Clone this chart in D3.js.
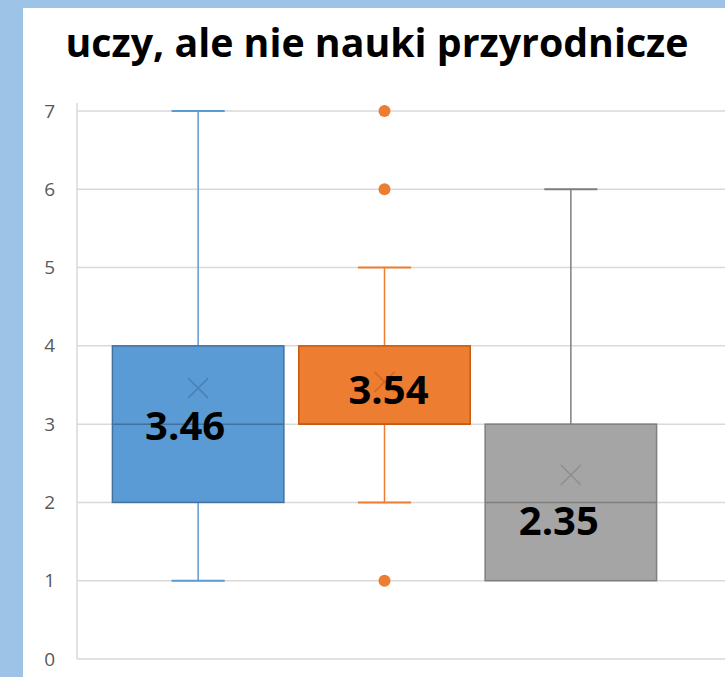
<!DOCTYPE html>
<html>
<head>
<meta charset="utf-8">
<script src="https://cdn.jsdelivr.net/npm/d3@7"></script>
<style>
  html, body { margin: 0; padding: 0; background: #9dc3e6; }
  svg { display: block; }
</style>
</head>
<body>
<svg id="chart" width="725" height="677"></svg>
<script>
// chart data
var title = 'uczy, ale nie nauki przyrodnicze';
var groups = ['A', 'B', 'C'];
var mins = [1, 2, 1];
var q1s = [2, 3, 1];
var medians = [3, 3, 2];
var q3s = [4, 4, 3];
var maxs = [7, 5, 6];
var means = [3.46, 3.54, 2.35];
var outliers = [[], [1, 6, 7], []];
var yTicks = [0, 1, 2, 3, 4, 5, 6, 7];

// styles
var fills = ['#5b9bd5', '#ed7d31', '#a5a5a5'];
var strokes = ['#41719c', '#c55a11', '#7f7f7f'];
var whiskerColors = ['#5b9bd5', '#ed7d31', '#7f7f7f'];
// where the mean labels sit, relative to the box centre / mean point
var labelOffsets = [[-13, 52], [4, 22], [-12, 60]];

var W = 725, H = 677;
var svg = d3.select('#chart');

//white panel, blue frame on the left and top
svg.append('rect')
  .attr('x', 23).attr('y', 8)
  .attr('width', W - 23).attr('height', H - 8)
  .attr('fill', '#ffffff');

var y = d3.scaleLinear().domain([0, 7]).range([659, 111]);
var x = d3.scaleBand().domain(groups).range([77, 692])
  .paddingInner(0.08).paddingOuter(0.19);
var bw = x.bandwidth();

//gridlines
svg.append('g').selectAll('line')
  .data(yTicks)
  .enter().append('line')
  .attr('x1', 77).attr('x2', W)
  .attr('y1', function(d) { return y(d); })
  .attr('y2', function(d) { return y(d); })
  .attr('stroke', '#d9d9d9')
  .attr('stroke-width', 1.5);

//y axis
var yAxis = svg.append('g')
  .attr('transform', 'translate(77,0)')
  .call(d3.axisLeft(y).tickValues(yTicks).tickFormat(d3.format('d'))
    .tickSize(0).tickPadding(22));
yAxis.select('.domain').remove();
yAxis.append('line')
  .attr('x1', 0).attr('x2', 0)
  .attr('y1', 103).attr('y2', y(0))
  .attr('stroke', '#d9d9d9').attr('stroke-width', 1.5);
yAxis.selectAll('text')
  .attr('fill', '#595959')
  .style('font-family', '"Open Sans", sans-serif')
  .style('font-size', '19px');

//boxes
groups.forEach(function(g, i) {
  var cx = x(g) + bw / 2;
  var capW = bw * 0.31;
  var grp = svg.append('g');

  //whiskers with caps, skipped when they have no length
  [[q3s[i], maxs[i]], [q1s[i], mins[i]]].forEach(function(w) {
    if (w[0] === w[1]) return;
    grp.append('line')
      .attr('x1', cx).attr('x2', cx)
      .attr('y1', y(w[0])).attr('y2', y(w[1]))
      .attr('stroke', whiskerColors[i]).attr('stroke-width', 1.5);
    grp.append('line')
      .attr('x1', cx - capW / 2).attr('x2', cx + capW / 2)
      .attr('y1', y(w[1])).attr('y2', y(w[1]))
      .attr('stroke', whiskerColors[i]).attr('stroke-width', 2);
  });

  //box
  grp.append('rect')
    .attr('x', x(g)).attr('y', y(q3s[i]))
    .attr('width', bw).attr('height', y(q1s[i]) - y(q3s[i]))
    .attr('fill', fills[i])
    .attr('stroke', strokes[i]).attr('stroke-width', 1.5);

  //median
  grp.append('line')
    .attr('x1', x(g)).attr('x2', x(g) + bw)
    .attr('y1', y(medians[i])).attr('y2', y(medians[i]))
    .attr('stroke', strokes[i]).attr('stroke-width', 1.5);

  //mean marker
  var my = y(means[i]), s = 10;
  grp.append('path')
    .attr('d', 'M' + (cx - s) + ',' + (my - s) + 'L' + (cx + s) + ',' + (my + s) +
      'M' + (cx - s) + ',' + (my + s) + 'L' + (cx + s) + ',' + (my - s))
    .attr('stroke', strokes[i]).attr('stroke-opacity', 0.6)
    .attr('stroke-width', 1.5).attr('fill', 'none');

  //outliers
  grp.selectAll('circle')
    .data(outliers[i])
    .enter().append('circle')
    .attr('cx', cx)
    .attr('cy', function(d) { return y(d); })
    .attr('r', 6)
    .attr('fill', fills[i]);

  //mean label
  grp.append('text')
    .attr('x', cx + labelOffsets[i][0])
    .attr('y', my + labelOffsets[i][1])
    .attr('text-anchor', 'middle')
    .style('font-family', '"Open Sans", sans-serif')
    .style('font-weight', 'bold')
    .style('font-size', '40px')
    .attr('fill', '#000000')
    .text(means[i].toFixed(2));
});

//title, sized to span the same width as the original
var t = svg.append('text')
  .attr('x', 377).attr('y', 57)
  .attr('text-anchor', 'middle')
  .style('font-family', '"Open Sans", sans-serif')
  .style('font-weight', 'bold')
  .style('font-size', '30px')
  .attr('fill', '#000000')
  .text(title);
var tw = t.node().getComputedTextLength();
t.style('font-size', (30 * 623 / tw).toFixed(1) + 'px');
</script>
</body>
</html>
